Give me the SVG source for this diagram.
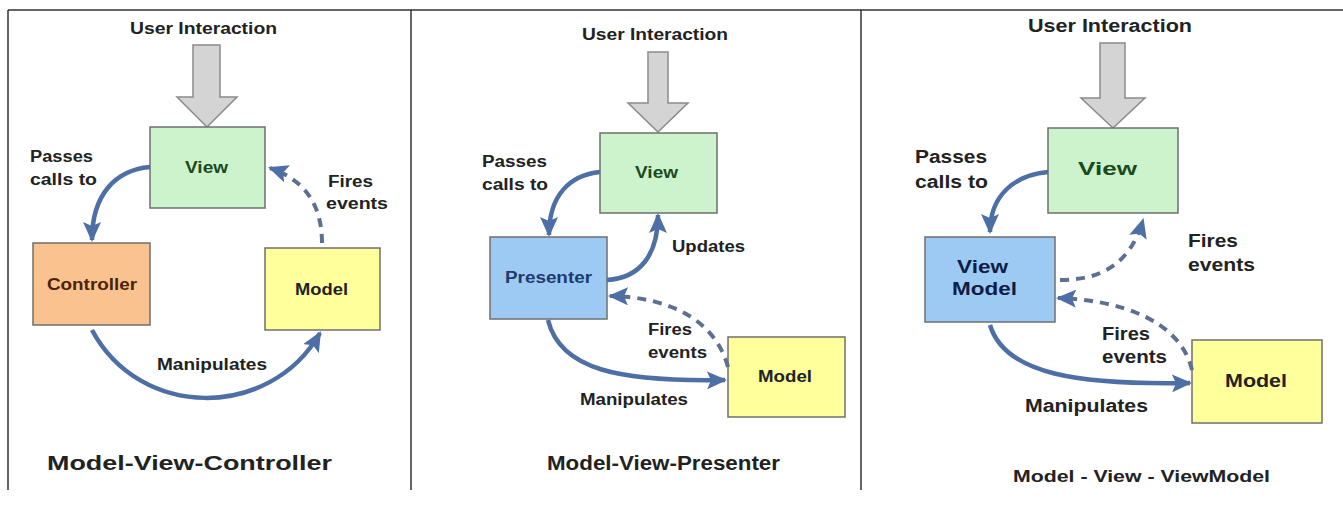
<svg xmlns="http://www.w3.org/2000/svg" width="1343" height="510" viewBox="0 0 1343 510">
<defs>
<style>
text{font-family:"Liberation Sans",Arial,sans-serif;font-weight:bold;fill:#222}
.box{stroke:#6f6f6f;stroke-width:1.5}
.view{fill:#cdf3cd}
.ctrl{fill:#f9c28f}
.model{fill:#ffff9c}
.pres{fill:#9ccaf3}
.ui{fill:#d4d4d4;stroke:#8a8a8a;stroke-width:1.5}
.solid{fill:none;stroke:#4d6fa6;stroke-width:4.5;marker-end:url(#ah)}
.dash{fill:none;stroke:#5e6f90;stroke-width:4;stroke-dasharray:9,7;marker-end:url(#ah)}
.frame{stroke:#333;stroke-width:1.5;fill:none}
.lbl{font-size:16px}
.big{font-size:18px}
.title{font-size:20px}
</style>
<marker id="ah" viewBox="0 0 20 18" refX="18" refY="9" markerWidth="20" markerHeight="18" markerUnits="userSpaceOnUse" orient="auto">
<path d="M0,0 L20,9 L0,18 L4,9 z" fill="#4d6fa6"/>
</marker>
</defs>
<rect width="1343" height="510" fill="#fff"/>
<g id="frame">
<path class="frame" d="M8,10 H1343 M8,10 V490 M411,10 V490 M861,10 V490"/>
</g>

<!-- Panel 1: MVC -->
<g id="mvc-ui">
<text class="lbl" x="130" y="34" textLength="147" lengthAdjust="spacingAndGlyphs">User Interaction</text>
<polygon class="ui" points="193,45 220,45 220,97 237,97 207,127 177,97 193,97"/>
</g>
<g id="mvc-view">
<rect class="box view" x="150" y="127" width="115" height="81"/>
<text class="lbl" x="185" y="173" textLength="43" lengthAdjust="spacingAndGlyphs" style="fill:#1d4a1d">View</text>
</g>
<g id="mvc-controller">
<rect class="box ctrl" x="33" y="243" width="117" height="82"/>
<text class="lbl" x="47" y="290" textLength="90" lengthAdjust="spacingAndGlyphs" style="fill:#4a2408">Controller</text>
</g>
<g id="mvc-model">
<rect class="box model" x="265" y="248" width="115" height="82"/>
<text class="lbl" x="295" y="295" textLength="53" lengthAdjust="spacingAndGlyphs">Model</text>
</g>
<g id="mvc-connectors">
<path class="solid" d="M150,167 C115,170 92,195 92,240"/>
<path class="dash" d="M322,243 C322,205 305,180 270,168"/>
<path class="solid" d="M92,330 C140,420 270,420 320,333"/>
</g>
<g id="mvc-labels">
<text class="lbl" x="30" y="162" textLength="63" lengthAdjust="spacingAndGlyphs">Passes</text>
<text class="lbl" x="30" y="185" textLength="67" lengthAdjust="spacingAndGlyphs">calls to</text>
<text class="lbl" x="328" y="187" textLength="45" lengthAdjust="spacingAndGlyphs">Fires</text>
<text class="lbl" x="326" y="209" textLength="62" lengthAdjust="spacingAndGlyphs">events</text>
<text class="lbl" x="157" y="370" textLength="110" lengthAdjust="spacingAndGlyphs">Manipulates</text>
<text class="title" x="47" y="470" textLength="285" lengthAdjust="spacingAndGlyphs">Model-View-Controller</text>
</g>

<!-- Panel 2: MVP -->
<g id="mvp-ui">
<text class="lbl" x="582" y="40" textLength="146" lengthAdjust="spacingAndGlyphs">User Interaction</text>
<polygon class="ui" points="648,52 668,52 668,103 688,103 658,132 628,103 648,103"/>
</g>
<g id="mvp-view">
<rect class="box view" x="600" y="133" width="117" height="80"/>
<text class="lbl" x="635" y="178" textLength="43" lengthAdjust="spacingAndGlyphs" style="fill:#1d4a1d">View</text>
</g>
<g id="mvp-presenter">
<rect class="box pres" x="490" y="237" width="117" height="82"/>
<text class="lbl" x="505" y="283" textLength="87" lengthAdjust="spacingAndGlyphs" style="fill:#1f3a6e">Presenter</text>
</g>
<g id="mvp-model">
<rect class="box model" x="728" y="337" width="117" height="80"/>
<text class="lbl" x="758" y="382" textLength="54" lengthAdjust="spacingAndGlyphs">Model</text>
</g>
<g id="mvp-connectors">
<path class="solid" d="M600,172 C570,175 549,195 549,235"/>
<path class="solid" d="M607,280 C640,278 658,255 658,215"/>
<path class="dash" d="M728,367 C715,320 670,297 610,296"/>
<path class="solid" d="M548,320 C560,370 620,382 725,380"/>
</g>
<g id="mvp-labels">
<text class="lbl" x="482" y="167" textLength="65" lengthAdjust="spacingAndGlyphs">Passes</text>
<text class="lbl" x="482" y="190" textLength="66" lengthAdjust="spacingAndGlyphs">calls to</text>
<text class="lbl" x="672" y="252" textLength="73" lengthAdjust="spacingAndGlyphs">Updates</text>
<text class="lbl" x="648" y="335" textLength="44" lengthAdjust="spacingAndGlyphs">Fires</text>
<text class="lbl" x="648" y="358" textLength="59" lengthAdjust="spacingAndGlyphs">events</text>
<text class="lbl" x="580" y="405" textLength="108" lengthAdjust="spacingAndGlyphs">Manipulates</text>
<text class="title" x="547" y="470" textLength="233" lengthAdjust="spacingAndGlyphs">Model-View-Presenter</text>
</g>

<!-- Panel 3: MVVM -->
<g id="mvvm-ui">
<text class="big" x="1028" y="32" textLength="164" lengthAdjust="spacingAndGlyphs">User Interaction</text>
<polygon class="ui" points="1100,43 1125,43 1125,98 1145,98 1113,128 1081,98 1100,98"/>
</g>
<g id="mvvm-view">
<rect class="box view" x="1048" y="128" width="130" height="85"/>
<text class="big" x="1078" y="175" textLength="59" lengthAdjust="spacingAndGlyphs" style="fill:#1d4a1d">View</text>
</g>
<g id="mvvm-viewmodel">
<rect class="box pres" x="925" y="237" width="130" height="85"/>
<text class="big" x="957" y="273" textLength="51" lengthAdjust="spacingAndGlyphs" style="fill:#0f1c44">View</text>
<text class="big" x="952" y="295" textLength="65" lengthAdjust="spacingAndGlyphs" style="fill:#0f1c44">Model</text>
</g>
<g id="mvvm-model">
<rect class="box model" x="1192" y="340" width="130" height="83"/>
<text class="big" x="1225" y="387" textLength="62" lengthAdjust="spacingAndGlyphs">Model</text>
</g>
<g id="mvvm-connectors">
<path class="solid" d="M1048,172 C1015,175 990,195 990,232"/>
<path class="dash" d="M1060,280 C1100,280 1130,265 1143,220"/>
<path class="dash" d="M1192,370 C1180,320 1120,300 1058,298"/>
<path class="solid" d="M990,325 C1005,375 1080,385 1190,383"/>
</g>
<g id="mvvm-labels">
<text class="big" x="915" y="163" textLength="72" lengthAdjust="spacingAndGlyphs">Passes</text>
<text class="big" x="915" y="188" textLength="73" lengthAdjust="spacingAndGlyphs">calls to</text>
<text class="big" x="1188" y="247" textLength="50" lengthAdjust="spacingAndGlyphs">Fires</text>
<text class="big" x="1188" y="271" textLength="67" lengthAdjust="spacingAndGlyphs">events</text>
<text class="big" x="1102" y="340" textLength="48" lengthAdjust="spacingAndGlyphs">Fires</text>
<text class="big" x="1102" y="363" textLength="65" lengthAdjust="spacingAndGlyphs">events</text>
<text class="big" x="1025" y="412" textLength="123" lengthAdjust="spacingAndGlyphs">Manipulates</text>
<text class="lbl" x="1013" y="482" textLength="257" lengthAdjust="spacingAndGlyphs" style="font-size:17px">Model - View - ViewModel</text>
</g>
</svg>
